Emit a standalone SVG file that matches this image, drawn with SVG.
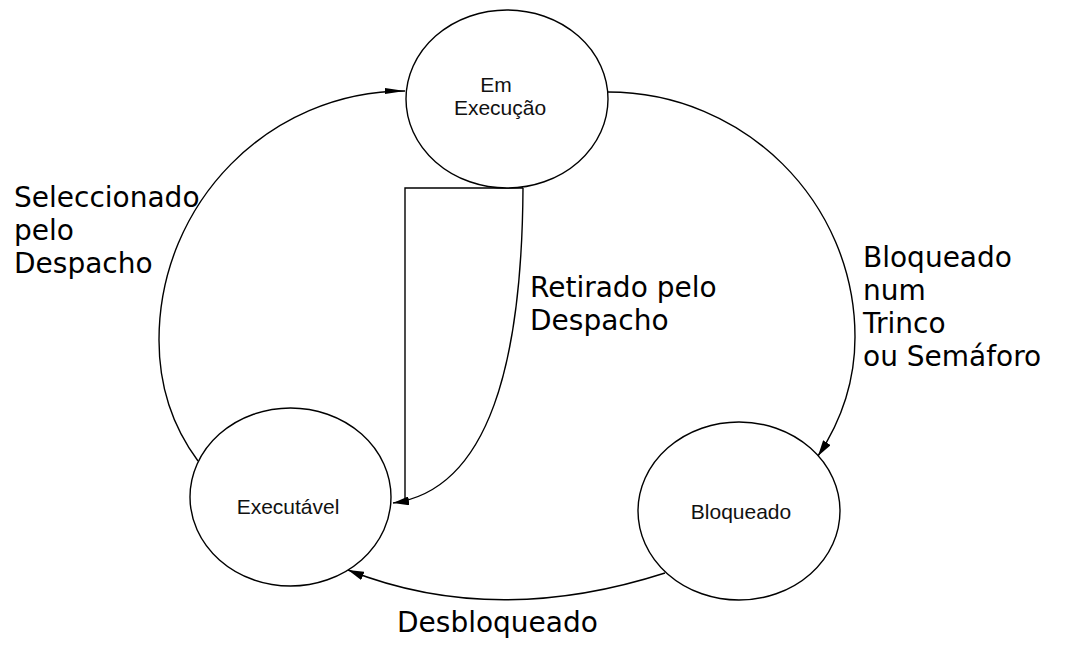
<svg xmlns="http://www.w3.org/2000/svg" width="1068" height="656" viewBox="0 0 1068 656">
<style>
.node{fill:#fff;stroke:#000;stroke-width:1.4}
.conn{fill:none;stroke:#000;stroke-width:1.4}
.nl{font-family:"Liberation Sans",Arial,sans-serif;font-size:21px;fill:#111;text-anchor:middle}
.el{font-family:"DejaVu Sans",Verdana,sans-serif;font-size:28px;fill:#000}
</style>
<defs>
<marker id="ah" markerUnits="userSpaceOnUse" markerWidth="16" markerHeight="9" refX="16" refY="4.5" orient="auto">
<path d="M0,0 L16,4.5 L0,9 z" fill="#000"/>
</marker>
<marker id="ahs" markerUnits="userSpaceOnUse" markerWidth="20" markerHeight="6" refX="20" refY="3" orient="auto">
<path d="M0,0 L20,3 L0,6 z" fill="#000"/>
</marker>
</defs>
<rect width="1068" height="656" fill="#fff"/>
<g id="connectors">
<path class="conn" d="M198,461 C175,430 159,390 159,340 C159,203 269,91 405,91" marker-end="url(#ahs)"/>
<path class="conn" d="M608,92 C744,92 855,202 855,337 C855,380 842,420 818,456" marker-end="url(#ah)"/>
<path class="conn" d="M665,573 Q494,628 348,570" marker-end="url(#ah)"/>
<path class="conn" d="M523,188 L405,188 L405,500"/>
<path class="conn" d="M523,188 C522,360 490,490 393,503" marker-end="url(#ah)"/>
</g>
<g id="node-em-execucao">
<ellipse class="node" cx="507" cy="99" rx="101" ry="89"/>
<text class="nl" x="496" y="92">Em</text>
<text class="nl" x="500" y="115">Execução</text>
</g>
<g id="node-executavel">
<ellipse class="node" cx="290.5" cy="497" rx="100.5" ry="89"/>
<text class="nl" x="288" y="514">Executável</text>
</g>
<g id="node-bloqueado">
<ellipse class="node" cx="739" cy="511" rx="101" ry="89"/>
<text class="nl" x="741" y="519">Bloqueado</text>
</g>
<g id="labels">
<text class="el" x="14" y="207">Seleccionado</text>
<text class="el" x="14" y="240">pelo</text>
<text class="el" x="14" y="273">Despacho</text>
<text class="el" x="530" y="297">Retirado pelo</text>
<text class="el" x="530" y="330">Despacho</text>
<text class="el" x="863" y="267">Bloqueado</text>
<text class="el" x="863" y="300">num</text>
<text class="el" x="863" y="333">Trinco</text>
<text class="el" x="863" y="366">ou Semáforo</text>
<text class="el" x="397" y="632">Desbloqueado</text>
</g>
</svg>
